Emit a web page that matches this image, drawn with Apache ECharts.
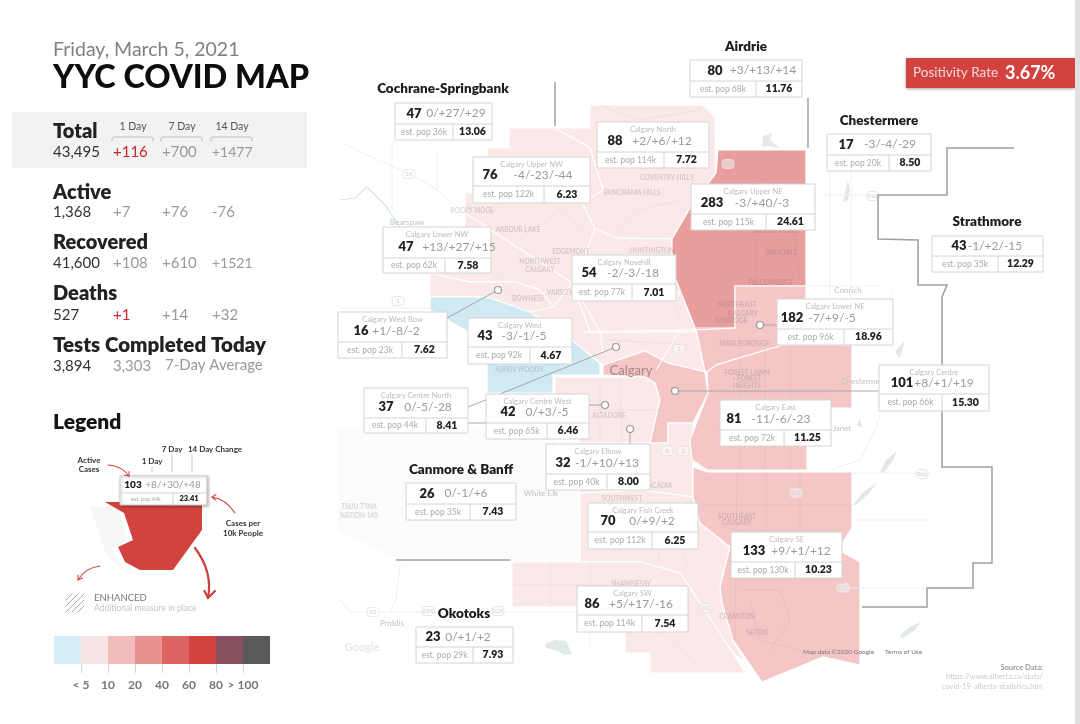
<!DOCTYPE html>
<html>
<head>
<meta charset="utf-8">
<title>YYC COVID MAP</title>
<style>
html, body { margin: 0; padding: 0; background: #fff; }
#chart { width: 1080px; height: 724px; filter: blur(0.5px); }
</style>
<script src="https://cdn.jsdelivr.net/npm/echarts@6/dist/echarts.min.js"></script>
</head>
<body>
<div id="chart"></div>
<script>
// ---- data ----
var areaNames = ['Airdrie', 'Cochrane-Springbank', 'Chestermere', 'Strathmore', 'Canmore & Banff', 'Okotoks',
    'Calgary North', 'Calgary Upper NW', 'Calgary Lower NW', 'Calgary Nosehill', 'Calgary West Bow', 'Calgary West',
    'Calgary Upper NE', 'Calgary Lower NE', 'Calgary Centre North', 'Calgary Centre West', 'Calgary Elbow',
    'Calgary Fish Creek', 'Calgary SW', 'Calgary Centre', 'Calgary East', 'Calgary SE'];
var activeCases = [80, 47, 17, 43, 26, 23, 88, 76, 47, 54, 16, 43, 283, 182, 37, 42, 32, 70, 86, 101, 81, 133];
var caseChanges = ['+3/+13/+14', '0/+27/+29', '-3/-4/-29', '-1/+2/-15', '0/-1/+6', '0/+1/+2',
    '+2/+6/+12', '-4/-23/-44', '+13/+27/+15', '-2/-3/-18', '+1/-8/-2', '-3/-1/-5',
    '-3/+40/-3', '-7/+9/-5', '0/-5/-28', '0/+3/-5', '-1/+10/+13',
    '0/+9/+2', '+5/+17/-16', '+8/+1/+19', '-11/-6/-23', '+9/+1/+12'];
var populations = ['68k', '36k', '20k', '35k', '35k', '29k', '114k', '122k', '62k', '77k', '23k', '92k',
    '115k', '96k', '44k', '65k', '40k', '112k', '114k', '66k', '72k', '130k'];
var caseRates = [11.76, 13.06, 8.50, 12.29, 7.43, 7.93, 7.72, 6.23, 7.58, 7.01, 7.62, 4.67,
    24.61, 18.96, 8.41, 6.46, 8.00, 6.25, 7.54, 15.30, 11.25, 10.23];

var statNames = ['Total', 'Active', 'Recovered', 'Deaths'];
var statTotals = ['43,495', '1,368', '41,600', '527'];
var statOneDay = ['+116', '+7', '+108', '+1'];
var statSevenDay = ['+700', '+76', '+610', '+14'];
var statFourteenDay = ['+1477', '-76', '+1521', '+32'];
var testsToday = '3,894';
var testsAverage = '3,303';
var positivityRate = '3.67%';

var scaleLabels = ['< 5', '10', '20', '40', '60', '80', '> 100'];
var scaleColors = ['#d6eef5', '#f9e4e5', '#f0bcbc', '#e79291', '#db6361', '#d2423f', '#86505f', '#595959'];
var mapShades = ['#cfeaf3', '#fbe9e9', '#f4c6c6', '#e99e9e', '#db6361', '#d2423f', '#86505f', '#595959'];
var scaleLimits = [5, 10, 20, 40, 60, 80, 100];

// ---- map geometry, in picture space ----
var areaShapes = {
    'Calgary North': [[590,105],[702,105],[715,117],[716,173],[690,208],[672,239],[617,238],[595,229],[582,203],[603,190],[590,148],[555,128],[590,128]],
    'Calgary Upper NW': [[509,128],[555,128],[590,148],[603,190],[582,203],[595,229],[585,255],[572,283],[465,213],[465,193],[487,193],[487,148],[509,148]],
    'Calgary Lower NW': [[465,213],[572,283],[553,307],[540,290],[516,282],[470,282],[430,273],[430,235],[465,235]],
    'Calgary Nosehill': [[585,255],[595,229],[617,238],[672,239],[672,270],[680,290],[696,330],[590,332],[572,283]],
    'Calgary West Bow': [[430,273],[470,282],[516,282],[540,290],[553,307],[530,312],[487,297],[430,297]],
    'Calgary West': [[430,297],[487,297],[530,312],[572,340],[600,363],[600,375],[553,375],[553,393],[487,393],[487,343],[430,310]],
    'Calgary Upper NE': [[716,173],[718,150],[806,150],[806,286],[735,286],[735,328],[696,330],[680,290],[672,270],[672,239],[690,208]],
    'Calgary Lower NE': [[696,330],[735,328],[735,286],[806,286],[806,305],[852,305],[852,345],[783,345],[716,365],[707,372],[705,372]],
    'Calgary Centre North': [[572,283],[590,332],[696,330],[705,372],[668,363],[645,351],[603,365],[600,363],[572,340],[530,312],[553,307]],
    'Calgary Centre West': [[555,377],[645,377],[655,383],[660,400],[650,443],[580,443],[580,420],[555,393]],
    'Calgary Centre': [[603,375],[603,365],[645,351],[668,363],[705,372],[708,393],[693,423],[668,423],[668,443],[650,443],[660,400],[655,383],[645,377]],
    'Calgary Elbow': [[580,443],[668,443],[668,423],[693,423],[693,497],[640,490],[580,493]],
    'Calgary East': [[707,372],[716,365],[783,345],[852,345],[852,408],[807,408],[807,470],[707,470],[692,460],[690,440],[708,393]],
    'Calgary Fish Creek': [[580,493],[640,490],[693,497],[700,523],[730,547],[720,587],[722,603],[733,640],[745,662],[733,653],[680,573],[640,562],[580,562]],
    'Calgary SW': [[512,562],[640,562],[680,573],[733,653],[745,673],[650,673],[650,653],[625,653],[625,607],[512,607]],
    'Calgary SE': [[707,472],[852,472],[852,528],[842,543],[842,552],[860,562],[860,665],[823,657],[762,682],[733,640],[722,603],[720,587],[730,547],[700,523],[693,497],[693,467]]
};
var waterShapes = [
    [[545,644],[555,640],[566,641],[572,654],[564,655],[558,651],[546,648]],
    [[762,147],[763,136],[772,133],[770,140],[780,148],[768,146]],
    [[843,203],[846,188],[848,180],[850,190],[848,200]],
    [[880,473],[886,460],[897,451],[892,462],[884,472]],
    [[853,505],[862,493],[878,482],[868,494],[856,505]],
    [[899,636],[910,627],[921,622],[915,630],[903,638]],
    [[895,352],[905,340],[900,358]],
    [[857,425],[860,419],[862,428]]
];
var terrainShape = [[338,428],[470,430],[555,440],[578,493],[580,560],[400,560],[338,530]];
var zoneBorders = [
    [[555,82],[555,126]],
    [[808,98],[808,148]],
    [[396,560],[510,560]],
    [[1014,148],[947,148],[947,195],[878,195],[878,239],[918,240],[918,285],[947,285],[942,297],[942,467],[992,467],[992,563],[973,563],[973,588],[927,588],[927,607],[862,607]]
];
var faintRoads = [
    [[342,143],[393,167],[410,173],[437,190],[455,205]],
    [[392,140],[392,210]],
    [[437,150],[437,190]],
    [[340,308],[430,308]],
    [[340,337],[364,337]],
    [[822,195],[880,195]],
    [[830,171],[830,300]],
    [[851,171],[851,300]],
    [[806,286],[880,286]],
    [[893,290],[880,320],[890,342]],
    [[852,473],[930,473]],
    [[852,520],[928,520]],
    [[842,588],[925,588]],
    [[340,600],[350,612],[577,612]],
    [[400,565],[396,600],[390,612]],
    [[830,470],[860,460],[875,430],[880,415]]
];
var streetLines = [
    [[740,346],[740,470]], [[765,346],[765,470]], [[790,346],[790,470]], [[715,392],[830,392]], [[715,430],[807,430]],
    [[737,472],[735,640]], [[766,472],[766,540]], [[800,472],[800,530]], [[700,505],[852,505]],
    [[740,590],[780,590],[790,620],[770,650]], [[750,600],[760,640],[800,650]],
    [[512,585],[625,585]], [[550,562],[550,607]], [[590,562],[590,650]], [[640,610],[680,650],[700,665]],
    [[600,380],[600,445]], [[620,380],[622,443]], [[580,410],[660,410]], [[640,500],[660,560]], [[665,510],[690,570]],
    [[735,160],[790,200],[800,280]], [[690,240],[800,240]], [[760,180],[755,285]], [[700,270],[735,320]],
    [[490,215],[540,170],[580,180]], [[520,240],[560,210],[590,235]], [[600,105],[640,120],[700,110]], [[610,240],[640,210],[680,200]],
    [[470,250],[520,300]], [[610,285],[660,270],[680,320]], [[610,340],[690,345]]
];
var teeRoads = [
    [[572,283],[600,332],[603,353]],
    [[583,332],[696,332]],
    [[695,328],[735,328]],
    [[656,370],[680,330]]
];
var riverLine = [[340,200],[355,198],[367,187],[385,205],[400,227]];

var leaderLines = [
    [[447,318],[498,290]],
    [[468,407],[616,347]],
    [[468,423],[486,423]],
    [[589,405],[605,405]],
    [[630,429],[630,444]],
    [[760,325],[777,325]],
    [[675,391],[879,391]]
];
var leaderDots = [[498,290],[616,347],[605,405],[630,429],[760,325],[675,391]];

var placeNames = ['COVENTRY HILLS', 'PANORAMA HILLS', 'ROCKY RIDGE', 'ARBOUR LAKE', 'EDGEMONT', 'HUNTINGTON', 'NORTHWEST', 'CALGARY', 'BOWNESS', 'VARSITY',
    'TARADALE', 'FALCONRIDGE', 'NORTHEAST', 'CALGARY', 'SUNRIDGE', 'MARLBOROUGH', 'FOREST LAWN', '- FOREST', 'HEIGHTS', 'ASPEN WOODS', 'ALTADORE', 'SOUTHWEST', 'ACADIA',
    'SHAWNESSY', 'SOUTHEAST', 'CALGARY', 'CRANSTON', 'SETON', 'SADDLE RIDGE', 'TSUU T\'INA', 'NATION 145'];
var placeSpots = [[667,178],[632,193],[472,211],[518,230],[571,252],[652,251],[540,262],[540,270],[528,299],[560,293],
    [781,253],[771,283],[737,305],[743,314],[731,321],[745,344],[747,373],[747,379],[747,386],[519,370],[609,416],[622,499],[660,486],
    [631,584],[737,517],[737,523],[737,617],[757,633],[775,231],[359,507],[359,516]];
var townNames = ['Bearspaw', 'Conrich', 'Chestermere', 'Janet', 'White Elk', 'Priddis'];
var townSpots = [[407,222],[848,290],[864,381],[842,428],[541,493],[392,623]];
var shieldNames = ['1A', '201', '566', '566', '201', '22X', '22X', '22', '22X', '201', '8', '2', '1', '1', '1'];
var shieldSpots = [[409,174],[728,164],[873,196],[922,474],[796,493],[843,588],[428,611],[373,612],[498,611],[706,608],[667,451],[683,451],[398,301],[679,349],[675,293]];

// ---- where each stat box sits: x, y, w, h, row line, column line, number centre, change centre ----
var boxSpots = [
    [690,60,112,37,81,756,715,763], [395,103,97,37,124,453,414,456], [827,134,104,37,155,889,846,890],
    [932,236,111,36,256,998,959,995], [406,483,110,37,504,470,427,466], [416,627,97,36,647,473,433,468],
    [597,122,112,46,152,664,615,662], [473,157,117,46,186,544,490,543], [383,227,108,46,258,445,406,459],
    [572,255,104,46,284,632,589,633], [338,312,109,46,342,402,361,396], [468,318,104,46,347,530,485,524],
    [691,184,124,46,214,766,712,762], [777,299,116,46,329,844,792,832], [364,388,104,45,418,426,386,428],
    [486,394,103,45,423,547,508,547], [546,444,104,46,474,607,563,607], [588,503,110,46,532,652,608,652],
    [577,586,111,46,615,642,592,641], [879,365,110,46,394,942,902,944], [720,400,111,46,430,784,734,781],
    [731,532,111,46,562,795,754,801]
];
var headingSpots = [[746,47],[443,89],[879,121],[987,222],[461,470],[464,614]];

var fontName = 'Lato';
var inkDark = '#222222';
var inkGrey = '#9a9a9a';
var inkRed = '#c8262c';

// map regions become a geojson so the library projects them
var features = [];
Object.keys(areaShapes).forEach(function (name) {
    features.push({
        type: 'Feature',
        properties: { name: name },
        geometry: { type: 'Polygon', coordinates: [areaShapes[name].concat([areaShapes[name][0]])] }
    });
});
echarts.registerMap('yyc', { type: 'FeatureCollection', features: features });

var mapData = [];
areaNames.forEach(function (name, i) {
    if (areaShapes[name]) {
        mapData.push({ name: name, value: caseRates[i] });
    }
});

var pieces = [{ lt: scaleLimits[0], color: mapShades[0] }];
for (var p = 1; p < scaleLimits.length; p++) {
    pieces.push({ gte: scaleLimits[p - 1], lt: scaleLimits[p], color: mapShades[p] });
}
pieces.push({ gte: scaleLimits[scaleLimits.length - 1], color: mapShades[7] });

function polyline(list, color, width, z) {
    return {
        type: 'lines',
        coordinateSystem: 'geo',
        geoIndex: 0,
        polyline: true,
        silent: true,
        z: z,
        lineStyle: { color: color, width: width, opacity: 1 },
        data: list.map(function (pts) { return { coords: pts }; })
    };
}

function filledShapes(list, color, z) {
    return {
        type: 'custom',
        coordinateSystem: 'geo',
        geoIndex: 0,
        silent: true,
        z: z,
        data: list.map(function (pts, i) { return [pts[0][0], pts[0][1], i]; }),
        renderItem: function (params, api) {
            var pts = list[api.value(2)].map(function (pt) { return api.coord(pt); });
            return { type: 'polygon', shape: { points: pts }, style: { fill: color } };
        }
    };
}

function mapTexts(names, spots, size, color, weight, z) {
    return {
        type: 'custom',
        coordinateSystem: 'geo',
        geoIndex: 0,
        silent: true,
        z: z,
        data: spots.map(function (pt, i) { return [pt[0], pt[1], i]; }),
        renderItem: function (params, api) {
            var at = api.coord([api.value(0), api.value(1)]);
            return {
                type: 'text',
                x: at[0], y: at[1],
                style: {
                    text: names[api.value(2)], fill: color, align: 'center', verticalAlign: 'middle',
                    font: weight + ' ' + size + 'px ' + fontName
                }
            };
        }
    };
}

var shieldSeries = {
    type: 'custom',
    coordinateSystem: 'geo',
    geoIndex: 0,
    silent: true,
    z: 5,
    data: shieldSpots.map(function (pt, i) { return [pt[0], pt[1], i]; }),
    renderItem: function (params, api) {
        var at = api.coord([api.value(0), api.value(1)]);
        return {
            type: 'group',
            x: at[0], y: at[1],
            children: [
                { type: 'rect', shape: { x: -6, y: -4.5, width: 12, height: 9, r: 3 }, style: { fill: 'rgba(255,255,255,0.45)', stroke: '#e2e2e2', lineWidth: 0.8 } },
                { type: 'text', style: { text: shieldNames[api.value(2)], x: 0, y: 0, fill: '#cfcfcf', align: 'center', verticalAlign: 'middle', font: '6px ' + fontName } }
            ]
        };
    }
};

var boxSeries = {
    type: 'custom',
    coordinateSystem: 'geo',
    geoIndex: 0,
    silent: true,
    z: 20,
    data: boxSpots.map(function (s, i) { return [s[0], s[1], i]; }),
    renderItem: function (params, api) {
        var i = api.value(2);
        var s = boxSpots[i];
        var at = api.coord([s[0], s[1]]);
        var isTown = i < headingSpots.length;
        var rowY = s[4] - s[1];
        var colX = s[5] - s[0];
        var numY = isTown ? rowY / 2 : rowY - 11;
        var botY = rowY + (s[3] - rowY) / 2;
        var kids = [
            { type: 'rect', shape: { x: 0, y: 0, width: s[2], height: s[3] }, style: { fill: '#fff', stroke: '#d4d4d4', lineWidth: 1 } },
            { type: 'line', shape: { x1: 0, y1: rowY, x2: s[2], y2: rowY }, style: { stroke: '#d4d4d4', lineWidth: 1 } },
            { type: 'line', shape: { x1: colX, y1: rowY, x2: colX, y2: s[3] }, style: { stroke: '#d4d4d4', lineWidth: 1 } },
            { type: 'text', style: { text: String(activeCases[i]), x: s[6] - s[0], y: numY, fill: inkDark, align: 'center', verticalAlign: 'middle', font: '800 13px ' + fontName } },
            { type: 'text', style: { text: caseChanges[i], x: s[7] - s[0], y: numY, fill: inkGrey, align: 'center', verticalAlign: 'middle', font: '12px ' + fontName } },
            { type: 'text', style: { text: 'est. pop ' + populations[i], x: colX / 2, y: botY, fill: '#ababab', align: 'center', verticalAlign: 'middle', font: '8.5px ' + fontName } },
            { type: 'text', style: { text: caseRates[i].toFixed(2), x: colX + (s[2] - colX) / 2, y: botY, fill: inkDark, align: 'center', verticalAlign: 'middle', font: '800 10.5px ' + fontName } }
        ];
        if (!isTown) {
            kids.push({ type: 'text', style: { text: areaNames[i], x: s[2] / 2, y: 8, fill: '#bcbcbc', align: 'center', verticalAlign: 'middle', font: '7.5px ' + fontName } });
        }
        return { type: 'group', x: at[0], y: at[1], children: kids };
    }
};

var scaleSeries = {
    type: 'custom',
    xAxisIndex: 0,
    yAxisIndex: 0,
    silent: true,
    data: scaleColors.map(function (c, i) { return [i, i + 1]; }),
    renderItem: function (params, api) {
        var a = api.coord([api.value(0), 1]);
        var b = api.coord([api.value(1), 0]);
        return { type: 'rect', shape: { x: a[0], y: a[1], width: b[0] - a[0], height: b[1] - a[1] }, style: { fill: scaleColors[params.dataIndex] } };
    }
};

// ---- left column, drawn as plain text ----
function label(text, x, y, font, fill, align) {
    return { type: 'text', x: x, y: y, silent: true, z: 50, style: { text: text, font: font + ' ' + fontName, fill: fill, align: align || 'left', verticalAlign: 'middle' } };
}
function segment(pts, color, width) {
    return { type: 'polyline', silent: true, z: 50, shape: { points: pts }, style: { fill: 'none', stroke: color, lineWidth: width, lineCap: 'round' } };
}
function curve(x1, y1, cx, cy, x2, y2, color, width) {
    return { type: 'bezierCurve', silent: true, z: 50, shape: { x1: x1, y1: y1, cpx1: cx, cpy1: cy, x2: x2, y2: y2 }, style: { fill: 'none', stroke: color, lineWidth: width, lineCap: 'round' } };
}

var statHeadY = [132, 193, 243, 294];
var statRowY = [152, 212, 263, 315];
var colX = [113, 162, 212];
var gfx = [];

gfx.push({ type: 'rect', silent: true, z: 40, shape: { x: 12, y: 112, width: 295, height: 56 }, style: { fill: '#f2f2f2' } });
gfx.push(label('Friday, March 5, 2021', 53, 50, '19.5px', '#808080'));
gfx.push(label('YYC COVID MAP', 53, 78, '900 32.5px', '#0d0d0d'));

['1 Day', '7 Day', '14 Day'].forEach(function (t, i) {
    gfx.push(label(t, colX[i] + 20, 127, '10.5px', '#555555', 'center'));
    gfx.push(segment([[colX[i] - 1, 141], [colX[i] - 1, 138], [colX[i] + 1, 137], [colX[i] + 38, 137], [colX[i] + 40, 138], [colX[i] + 40, 141]], '#bdbdbd', 1));
});

statNames.forEach(function (name, i) {
    gfx.push(label(name, 53, statHeadY[i], '800 20px', inkDark));
    gfx.push(label(statTotals[i], 53, statRowY[i], '15px', '#333333'));
    gfx.push(label(statOneDay[i], colX[0], statRowY[i], '15px', statOneDay[i] === '+116' || statOneDay[i] === '+1' ? inkRed : inkGrey));
    gfx.push(label(statSevenDay[i], colX[1], statRowY[i], '15px', inkGrey));
    gfx.push(label(statFourteenDay[i], colX[2], statRowY[i], i % 2 === 0 ? '14px' : '15px', inkGrey));
});
gfx.push(label('Tests Completed Today', 53, 345, '800 20.5px', inkDark));
gfx.push(label(testsToday, 53, 366, '15px', '#333333'));
gfx.push(label(testsAverage, colX[0], 366, '15px', inkGrey));
gfx.push(label('7-Day Average', 165, 365, '15px', inkGrey));

// positivity tag
gfx.push({ type: 'rect', silent: true, z: 40, shape: { x: 906, y: 58, width: 169, height: 30 }, style: { fill: '#d2423f', shadowBlur: 3, shadowOffsetY: 1, shadowColor: 'rgba(0,0,0,0.35)' } });
gfx.push(label('Positivity Rate', 913, 73, '13.5px', '#f7d9d8'));
gfx.push(label(positivityRate, 1005, 73, '700 18px', '#ffffff'));
gfx.push({ type: 'rect', silent: true, z: 40, shape: { x: 1075, y: 0, width: 5, height: 724 }, style: { fill: '#e0e0e0' } });

// legend sketch
gfx.push(label('Legend', 53, 422, '800 21px', '#141414'));
gfx.push(label('7 Day', 172, 449, '700 8px', '#333333', 'center'));
gfx.push(label('14 Day Change', 215, 449, '700 8px', '#333333', 'center'));
gfx.push(label('1 Day', 152, 461, '700 8px', '#333333', 'center'));
gfx.push(label('Active', 89, 460, '700 8px', '#333333', 'center'));
gfx.push(label('Cases', 89, 469, '700 8px', '#333333', 'center'));
gfx.push(segment([[152, 467], [152, 472]], '#c8c8c8', 1));
gfx.push(segment([[172, 455], [172, 472]], '#c8c8c8', 1));
gfx.push(segment([[192, 455], [192, 472]], '#c8c8c8', 1));
gfx.push({ type: 'polygon', silent: true, z: 44, shape: { points: [[90,506],[118,507],[128,540],[112,549],[125,570],[140,573],[125,572],[106,555]] }, style: { fill: '#f7f7f7' } });
gfx.push({ type: 'polygon', silent: true, z: 45, shape: { points: [[105,502],[202,502],[202,530],[173,570],[140,570],[125,562],[118,547],[133,540],[124,513]] }, style: { fill: '#d2423f' } });
gfx.push({ type: 'rect', silent: true, z: 46, shape: { x: 120, y: 476, width: 87, height: 29 }, style: { fill: '#fff', stroke: '#cfcfcf', lineWidth: 1, shadowBlur: 3, shadowOffsetX: 1, shadowOffsetY: 1, shadowColor: 'rgba(0,0,0,0.3)' } });
gfx.push(segment([[120, 493], [207, 493]], '#d4d4d4', 1));
gfx.push(segment([[173, 493], [173, 505]], '#d4d4d4', 1));
gfx.push(label('103', 133, 485, '800 10px', inkDark, 'center'));
gfx.push(label('+8/+30/+48', 173, 485, '10px', inkGrey, 'center'));
gfx.push(label('est. pop 44k', 146, 499, '5.5px', '#ababab', 'center'));
gfx.push(label('23.41', 189, 499, '800 7.5px', inkDark, 'center'));
gfx.push(curve(108, 465, 122, 466, 129, 476, '#d2423f', 1.1));
gfx.push(segment([[124.5, 475], [129, 476], [129, 471.5]], '#d2423f', 1.1));
gfx.push(curve(235, 513, 226, 499, 212, 497, '#d2423f', 1.1));
gfx.push(segment([[216, 494.5], [212, 497], [215.5, 500]], '#d2423f', 1.1));
gfx.push(curve(195, 548, 213, 572, 208, 598, '#c9403d', 2.2));
gfx.push(segment([[204.5, 591], [208, 598], [215, 591]], '#c9403d', 2.2));
gfx.push(curve(100, 566, 85, 568, 78, 580, '#d2423f', 1.1));
gfx.push(segment([[78, 575], [78, 580], [82.5, 578]], '#d2423f', 1.1));
gfx.push(label('Cases per', 243, 523, '700 8px', '#333333', 'center'));
gfx.push(label('10k People', 243, 533, '700 8px', '#333333', 'center'));
[[[66,600],[72,594]], [[66,606],[78,594]], [[66,612],[84,594]], [[72,612],[84,600]], [[78,612],[84,606]]].forEach(function (pts) {
    gfx.push(segment(pts, '#a8a8a8', 1));
});
gfx.push(label('ENHANCED', 94, 598, '9.5px', '#777777'));
gfx.push(label('Additional measure in place', 94, 608, '8.5px', '#c4c4c4'));

// map credits
gfx.push(label('Google', 362, 647, '700 11px', '#e8e8e8', 'center'));
gfx.push(label('Map data \u00a92020 Google', 803, 652, '6.5px', '#777777'));
gfx.push(label('Terms of Use', 885, 652, '6.5px', '#777777'));
gfx.push(label('Source Data:', 1043, 668, '700 7.5px', '#999999', 'right'));
gfx.push(label('https://www.alberta.ca/stats/', 1043, 677, '7.5px', '#cccccc', 'right'));
gfx.push(label('covid-19-alberta-statistics.htm', 1043, 687, '7.5px', '#cccccc', 'right'));

var dotSeries = {
    type: 'scatter',
    coordinateSystem: 'geo',
    geoIndex: 0,
    silent: true,
    z: 15,
    symbolSize: 7,
    itemStyle: { color: '#fff', borderColor: '#9a9a9a', borderWidth: 1.2, opacity: 1 },
    data: leaderDots
};

var cityLabel = {
    type: 'custom',
    coordinateSystem: 'geo',
    geoIndex: 0,
    silent: true,
    z: 6,
    data: [[631, 371]],
    renderItem: function (params, api) {
        var at = api.coord([api.value(0), api.value(1)]);
        return { type: 'text', x: at[0], y: at[1], style: { text: 'Calgary', fill: '#a58585', align: 'center', verticalAlign: 'middle', font: '13px ' + fontName } };
    }
};

var chart = echarts.init(document.getElementById('chart'));
chart.setOption({
    animation: false,
    backgroundColor: '#ffffff',
    tooltip: { show: false },
    visualMap: { show: false, type: 'piecewise', seriesIndex: 0, pieces: pieces },
    geo: {
        map: 'yyc',
        roam: false,
        silent: true,
        z: 2,
        projection: {
            project: function (pt) { return pt; },
            unproject: function (pt) { return pt; }
        },
        boundingCoords: [[0, 0], [1080, 724]],
        left: 0, top: 0, width: 1080, height: 724,
        label: { show: false },
        itemStyle: { areaColor: '#ffffff', borderColor: '#ffffff', borderWidth: 1.2 },
        emphasis: { disabled: true }
    },
    grid: { left: 54, top: 636, width: 216, height: 28, show: false },
    xAxis: {
        type: 'value', min: 0, max: 8, interval: 1,
        splitLine: { show: false },
        axisLine: { show: false },
        axisTick: { show: true, length: 9, customValues: [1, 2, 3, 4, 5, 6, 7], lineStyle: { color: '#d8d8d8' } },
        axisLabel: {
            show: true, margin: 15, color: '#777777', fontSize: 12, fontWeight: 700, fontFamily: fontName,
            customValues: [1, 2, 3, 4, 5, 6, 7],
            formatter: function (v) { return scaleLabels[v - 1]; }
        }
    },
    yAxis: { type: 'value', min: 0, max: 1, show: false },
    graphic: { elements: gfx },
    series: [
        { type: 'map', geoIndex: 0, data: mapData, silent: true },
        filledShapes([terrainShape], '#fbfbfa', 1),
        filledShapes(waterShapes, '#dfeae7', 3),
        polyline(faintRoads, '#f0f0f0', 1, 3),
        polyline([riverLine], '#d5e6e0', 1.2, 3),
        polyline(streetLines, 'rgba(120,80,80,0.07)', 1, 4),
        polyline(teeRoads, '#ffffff', 1.2, 4),
        mapTexts(placeNames, placeSpots, 6.5, 'rgba(120,110,130,0.28)', '700', 5),
        mapTexts(townNames, townSpots, 8, '#c2c2c2', '400', 5),
        shieldSeries,
        cityLabel,
        polyline(zoneBorders, '#a0a0a0', 1.5, 8),
        polyline(leaderLines, '#a8a8a8', 1, 12),
        dotSeries,
        boxSeries,
        mapTexts(areaNames.slice(0, headingSpots.length), headingSpots, 13.5, '#1c1c1c', '800', 21),
        scaleSeries
    ]
});
</script>
</body>
</html>
